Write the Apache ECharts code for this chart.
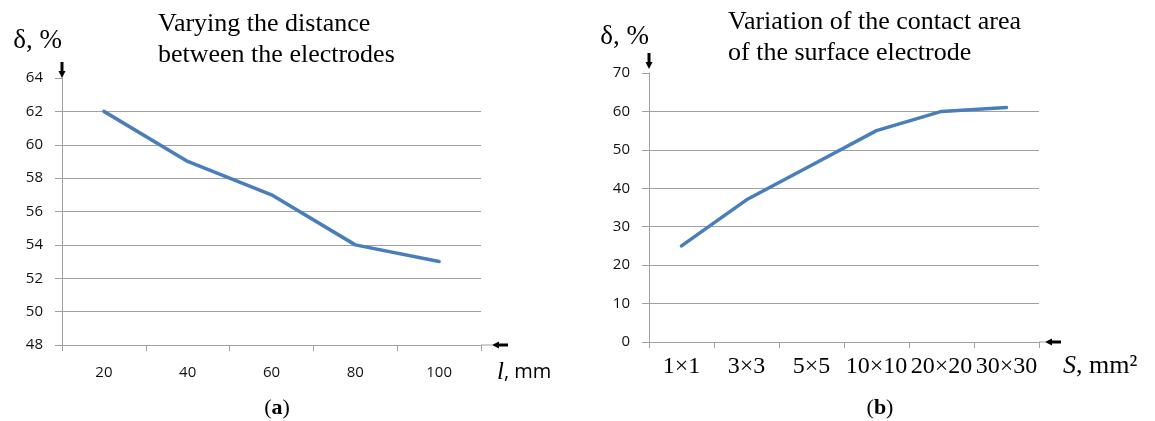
<!DOCTYPE html>
<html><head><meta charset="utf-8">
<script src="https://cdn.jsdelivr.net/npm/echarts@6/dist/echarts.min.js"></script>
<style>html,body{margin:0;padding:0;background:#fff}#c{width:1155px;height:421px}</style>
</head><body><div id="c"></div>
<script>
// ---- data (a): distance between electrodes ----
const distCategories = ['20', '40', '60', '80', '100'];
const distValues = [62, 59, 57, 54, 53];
const distAxis = [48, 64, 2];          // min, max, interval
// ---- data (b): contact area of surface electrode ----
const areaCategories = ['1×1', '3×3', '5×5', '10×10', '20×20', '30×30'];
const areaValues = [25, 37, 46, 55, 60, 61];
const areaAxis = [0, 70, 10];          // min, max, interval
// ---- texts ----
const titleA = ['Varying the distance', 'between the electrodes'];
const titleB = ['Variation of the contact area', 'of the surface electrode'];
const yName = 'δ, %';

const GRID = '#a0a0a0';
const LINE = '#4a7ebb';
const SERIF = '"Liberation Serif", "Times New Roman", serif';
const SANS = '"Open Sans", "Liberation Sans", sans-serif';

const chart = echarts.init(document.getElementById('c'), null, {renderer: 'canvas'});

function yAxisCfg(gi, ax, gap) {
  return {
    type: 'value', gridIndex: gi, min: ax[0], max: ax[1], interval: ax[2],
    name: yName, nameLocation: 'end', nameGap: gap,
    nameTextStyle: {fontFamily: SERIF, fontSize: 27, color: '#000', align: 'right', verticalAlign: 'middle'},
    axisLine: {show: true, lineStyle: {color: GRID, width: 1}},
    axisTick: {show: true, length: 7, lineStyle: {color: GRID}},
    axisLabel: {margin: 19, fontFamily: SANS, fontSize: 15, color: '#111'},
    splitLine: {show: true, showMaxLine: false, lineStyle: {color: GRID, width: 1}}
  };
}

const option = {
  animation: false,
  backgroundColor: '#fff',
  grid: [
    {left: 62, top: 78, width: 419, height: 267},
    {left: 649, top: 73, width: 390, height: 269}
  ],
  xAxis: [
    {
      type: 'category', gridIndex: 0, data: distCategories, boundaryGap: true,
      name: '{l|l}{t|, mm}', nameLocation: 'end', nameGap: 16,
      nameTextStyle: {verticalAlign: 'top', padding: [15, 0, 0, 0],
        rich: {l: {fontFamily: SERIF, fontStyle: 'italic', fontSize: 25, color: '#000'},
               t: {fontFamily: SANS, fontSize: 20, color: '#000'}}},
      axisLine: {show: true, lineStyle: {color: GRID, width: 1}},
      axisTick: {show: true, length: 6, lineStyle: {color: GRID}},
      axisLabel: {margin: 20, fontFamily: SANS, fontSize: 15, color: '#111'},
      splitLine: {show: false}
    },
    {
      type: 'category', gridIndex: 1, data: areaCategories, boundaryGap: true,
      name: '{s|S}{t|, mm²}', nameLocation: 'end', nameGap: 24,
      nameTextStyle: {verticalAlign: 'top', padding: [11, 0, 0, 0],
        rich: {s: {fontFamily: SERIF, fontStyle: 'italic', fontSize: 26, color: '#000'},
               t: {fontFamily: SERIF, fontSize: 26, color: '#000'}}},
      axisLine: {show: true, lineStyle: {color: GRID, width: 1}},
      axisTick: {show: true, length: 6, lineStyle: {color: GRID}},
      axisLabel: {margin: 13, fontFamily: SERIF, fontSize: 24, color: '#000', interval: 0},
      splitLine: {show: false}
    }
  ],
  yAxis: [yAxisCfg(0, distAxis, 37), yAxisCfg(1, areaAxis, 36)],
  series: [
    {type: 'line', xAxisIndex: 0, yAxisIndex: 0, data: distValues, showSymbol: false,
     lineStyle: {color: LINE, width: 3.5, cap: 'round', join: 'round'}},
    {type: 'line', xAxisIndex: 1, yAxisIndex: 1, data: areaValues, showSymbol: false,
     lineStyle: {color: LINE, width: 3.5, cap: 'round', join: 'round'}}
  ]
};
chart.setOption(option);

// decorations: titles, captions, axis arrows (positions derived from grid layout)
function gridRect(i) {
  return chart.getModel().getComponent('grid', i).coordinateSystem.getRect();
}
const gfx = [];
function titleText(x, y, lines) {
  gfx.push({type: 'text', x: x, y: y, silent: true,
    style: {text: lines.join('\n'), fontFamily: SERIF, fontSize: 26, lineHeight: 30.5, fill: '#000', align: 'left', verticalAlign: 'top'}});
}
function caption(x, y, letter) {
  gfx.push({type: 'text', x: x, y: y, silent: true,
    style: {text: '({b|' + letter + '})', fontFamily: SERIF, fontSize: 22, fill: '#000', align: 'center', verticalAlign: 'middle',
      rich: {b: {fontFamily: SERIF, fontSize: 22, fontWeight: 'bold', fill: '#000'}}}});
}
function arrows(r, gapY, extX) {
  const x0 = r.x, yTop = r.y, xEnd = r.x + r.width, yBot = r.y + r.height;
  // vertical arrow (pointing down) above y axis
  const tipY = yTop - gapY;
  gfx.push({type: 'line', silent: true, shape: {x1: x0, y1: tipY - 16, x2: x0, y2: tipY - 5},
    style: {stroke: '#000', lineWidth: 3}});
  gfx.push({type: 'polygon', silent: true, shape: {points: [[x0 - 3.5, tipY - 7], [x0 + 3.5, tipY - 7], [x0, tipY]]},
    style: {fill: '#000'}});
  // x axis extension + arrow pointing left
  gfx.push({type: 'line', silent: true, shape: {x1: xEnd, y1: yBot, x2: xEnd + extX, y2: yBot},
    style: {stroke: GRID, lineWidth: 1}});
  const tipX = xEnd + extX;
  gfx.push({type: 'line', silent: true, shape: {x1: tipX + 5, y1: yBot, x2: tipX + 16, y2: yBot},
    style: {stroke: '#000', lineWidth: 3}});
  gfx.push({type: 'polygon', silent: true, shape: {points: [[tipX + 7, yBot - 3.5], [tipX + 7, yBot + 3.5], [tipX, yBot]]},
    style: {fill: '#000'}});
}
const rA = gridRect(0), rB = gridRect(1);
titleText(158, 9, titleA);
titleText(728, 7, titleB);
caption(277, 408, 'a');
caption(880, 408, 'b');
arrows(rA, 0, 11);
arrows(rB, 4, 6);
chart.setOption({graphic: gfx});
</script>
</body></html>
